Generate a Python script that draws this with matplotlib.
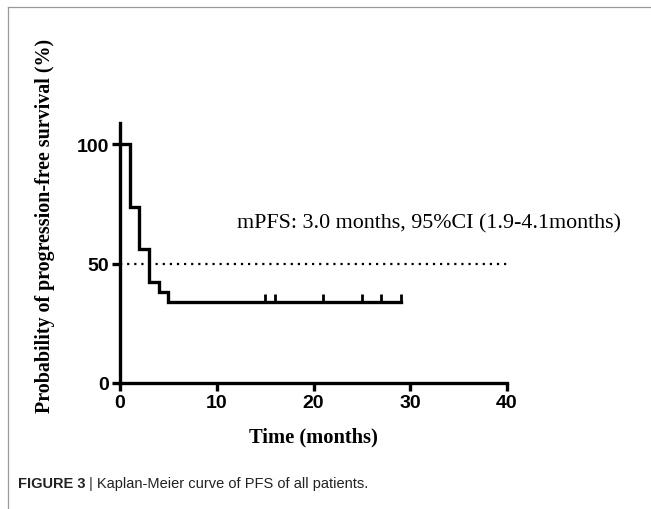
import matplotlib
matplotlib.use('Agg')
import matplotlib.pyplot as plt
from matplotlib.lines import Line2D
import numpy as np


# Kaplan-Meier estimate (months, % progression-free)
event_times = [0, 1, 2, 3, 4, 5, 29]
survival = [100, 73.9, 56.2, 42.5, 38.3, 34.1, 34.1]
censor_times = [15, 16, 21, 25, 27, 29]
censor_level = 34.1
median_line = 50

x_ticks = [0, 10, 20, 30, 40]
y_ticks = [0, 50, 100]

note = "mPFS: 3.0 months, 95%CI (1.9-4.1months)"
caption_bold = "FIGURE 3"
caption_rest = " | Kaplan-Meier curve of PFS of all patients."

SERIF = ['Liberation Serif', 'DejaVu Serif']
SANS = ['Liberation Sans', 'DejaVu Sans']

W, H = 651, 510
fig = plt.figure(figsize=(W / 100, H / 100), dpi=100)
ax = fig.add_axes([120 / W, 1 - 384 / H, 387 / W, 260 / H])

ax.step(event_times, survival, where='post', color='black', lw=2.4,
        solid_joinstyle='miter', zorder=3)
# censor marks: short ticks standing on the curve
ax.vlines(censor_times, censor_level, censor_level + 3.2, color='black',
          lw=2, zorder=3)
ax.plot([0, 40], [median_line, median_line], color='black', lw=1.6,
        linestyle=(0, (1, 2.2)), zorder=2)

ax.set_xlim(0, 40)
ax.set_ylim(0, 109)
ax.set_xticks(x_ticks)
ax.set_yticks(y_ticks)
for side in ('top', 'right'):
    ax.spines[side].set_visible(False)
for side in ('left', 'bottom'):
    ax.spines[side].set_linewidth(2.4)
ax.tick_params(width=2.4, length=6, direction='out', pad=2)
for lab in ax.get_xticklabels() + ax.get_yticklabels():
    lab.set_fontfamily(SANS)
    lab.set_fontweight('bold')
    lab.set_fontsize(14)

ax.text(12.1, 65.4, note, family=SERIF, fontsize=15.8, va='baseline',
        ha='left')

fig.text(313 / W, 1 - 437 / H, "Time (months)", family=SERIF,
         fontweight='bold', fontsize=14.8, ha='center', va='center')
fig.text(45 / W, 1 - 226 / H, "Probability of progression-free survival (%)",
         family=SERIF, fontweight='bold', fontsize=14.4, rotation=90,
         ha='center', va='center')

# caption below the panel
t = fig.text(18 / W, 1 - 484 / H, caption_bold, family=SANS,
             fontweight='bold', fontsize=10.5, color='#222222',
             va='center', ha='left')
fig.canvas.draw()
bb = t.get_window_extent()
fig.text(bb.x1 / W, 1 - 484 / H, caption_rest, family=SANS, fontsize=10.5,
         color='#222222', va='center', ha='left')

# thin frame at top and left edge
fig.add_artist(Line2D([8 / W, 1], [1 - 8 / H, 1 - 8 / H], color='#999999',
                      lw=0.9, transform=fig.transFigure))
fig.add_artist(Line2D([8 / W, 8 / W], [0, 1 - 8 / H], color='#999999',
                      lw=0.9, transform=fig.transFigure))

fig.savefig('out.png', dpi=100)
